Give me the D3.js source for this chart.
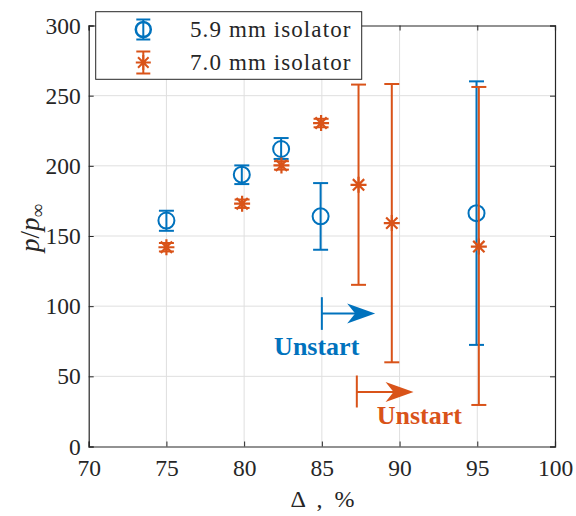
<!DOCTYPE html>
<html>
<head>
<meta charset="utf-8">
<script src="https://cdn.jsdelivr.net/npm/d3@7"></script>
<style>
  html, body { margin: 0; padding: 0; background: #fff; }
  svg { display: block; }
  text { font-family: "Liberation Serif", "DejaVu Serif", serif; fill: #262626; }
</style>
</head>
<body>
<svg id="chart" width="576" height="516"></svg>
<script>
// ---- data ----
const seriesNames = ["5.9 mm isolator", "7.0 mm isolator"];
const seriesColors = ["#0072BD", "#D95319"];

const blueX  = [75, 79.85, 82.38, 84.92, 94.95];
const blueY  = [161, 193.7, 212, 164, 166.3];
const blueLo = [153.7, 187, 204.9, 140.2, 72.4];
const blueHi = [168, 200.3, 219.8, 187.7, 260.2];

const orangeX  = [75, 79.87, 82.4, 84.95, 87.36, 89.5, 95.1];
const orangeY  = [142, 173, 200.3, 230.5, 186.5, 159.2, 142.5];
const orangeLo = [139, 170, 197.3, 227.5, 115.2, 60, 29.6];
const orangeHi = [145, 176, 203.3, 233.5, 257.9, 258.3, 256.2];

const xTicks = [70, 75, 80, 85, 90, 95, 100];
const yTicks = [0, 50, 100, 150, 200, 250, 300];

// annotations (data units): bar x, bar y range, arrow y, arrow tip x, label x, label y
const unstartLabel = "Unstart";
const arrowBarX   = [85, 87.25];
const arrowBarY0  = [83.1, 27.8];
const arrowBarY1  = [106.4, 50.6];
const arrowY      = [94.7, 38.9];
const arrowTipX   = [88.43, 90.9];
const labelX      = [84.67, 91.27];
const labelY      = [65.3, 15.9];

// ---- layout ----
const FONT = '"Liberation Serif", "DejaVu Serif", serif';
const svg = d3.select("#chart");
const L = 88.7, R = 555, T = 25.5, B = 446.5;
const x = d3.scaleLinear().domain([70, 100]).range([L, R]);
const y = d3.scaleLinear().domain([0, 300]).range([B, T]);
const axisColor = "#262626";

// grid
const grid = svg.append("g");
grid.selectAll(".gx").data(xTicks.slice(1, -1)).join("line")
  .attr("x1", d => x(d)).attr("x2", d => x(d)).attr("y1", T).attr("y2", B)
  .attr("stroke", "#dfdfdf").attr("stroke-width", 1);
grid.selectAll(".gy").data(yTicks.slice(1, -1)).join("line")
  .attr("x1", L).attr("x2", R).attr("y1", d => y(d)).attr("y2", d => y(d))
  .attr("stroke", "#dfdfdf").attr("stroke-width", 1);

// axes (inward ticks)
const tickLen = 5;
const xAxisB = d3.axisBottom(x).tickValues(xTicks).tickSize(-tickLen).tickPadding(13).tickFormat(d3.format("d"));
const xAxisT = d3.axisTop(x).tickValues(xTicks).tickSize(-tickLen).tickFormat("");
const yAxisL = d3.axisLeft(y).tickValues(yTicks).tickSize(-tickLen).tickPadding(8).tickFormat(d3.format("d"));
const yAxisR = d3.axisRight(y).tickValues(yTicks).tickSize(-tickLen).tickFormat("");

function styleAxis(g) {
  g.attr("font-family", FONT);
  g.selectAll("path").attr("stroke", axisColor).attr("stroke-width", 1.2);
  g.selectAll("line").attr("stroke", axisColor).attr("stroke-width", 1);
  g.selectAll("text").style("font-family", FONT).attr("font-size", 23.5).attr("fill", axisColor);
}
svg.append("g").attr("transform", `translate(0,${B})`).call(xAxisB).call(styleAxis);
svg.append("g").attr("transform", `translate(0,${T})`).call(xAxisT).call(styleAxis);
svg.append("g").attr("transform", `translate(${L},0)`).call(yAxisL).call(styleAxis);
svg.append("g").attr("transform", `translate(${R},0)`).call(yAxisR).call(styleAxis);

// ---- series ----
const capHalf = 7.5;
function drawErrorbars(g, xs, ys, lo, hi, color) {
  const data = xs.map((d, i) => ({x: d, y: ys[i], lo: lo[i], hi: hi[i]}));
  g.selectAll(".eb").data(data).join("line")
    .attr("x1", d => x(d.x)).attr("x2", d => x(d.x))
    .attr("y1", d => y(d.lo)).attr("y2", d => y(d.hi))
    .attr("stroke", color).attr("stroke-width", 2);
  g.selectAll(".capl").data(data).join("line")
    .attr("x1", d => x(d.x) - capHalf).attr("x2", d => x(d.x) + capHalf)
    .attr("y1", d => y(d.lo)).attr("y2", d => y(d.lo))
    .attr("stroke", color).attr("stroke-width", 2);
  g.selectAll(".caph").data(data).join("line")
    .attr("x1", d => x(d.x) - capHalf).attr("x2", d => x(d.x) + capHalf)
    .attr("y1", d => y(d.hi)).attr("y2", d => y(d.hi))
    .attr("stroke", color).attr("stroke-width", 2);
  return data;
}
function starPath(cx, cy, r) {
  const k = r * Math.SQRT1_2;
  return `M${cx - r},${cy}H${cx + r}M${cx},${cy - r}V${cy + r}` +
         `M${cx - k},${cy - k}L${cx + k},${cy + k}M${cx - k},${cy + k}L${cx + k},${cy - k}`;
}

const gBlue = svg.append("g");
const bData = drawErrorbars(gBlue, blueX, blueY, blueLo, blueHi, seriesColors[0]);
gBlue.selectAll("circle").data(bData).join("circle")
  .attr("cx", d => x(d.x)).attr("cy", d => y(d.y)).attr("r", 8)
  .attr("fill", "none").attr("stroke", seriesColors[0]).attr("stroke-width", 2);

const gOr = svg.append("g");
const oData = drawErrorbars(gOr, orangeX, orangeY, orangeLo, orangeHi, seriesColors[1]);
gOr.selectAll(".star").data(oData).join("path")
  .attr("d", d => starPath(x(d.x), y(d.y), 8))
  .attr("fill", "none").attr("stroke", seriesColors[1]).attr("stroke-width", 2.2);

// ---- annotations ----
const ann = svg.append("g");
arrowBarX.forEach((bx, i) => {
  const c = seriesColors[i];
  ann.append("line").attr("x1", x(bx)).attr("x2", x(bx))
    .attr("y1", y(arrowBarY0[i])).attr("y2", y(arrowBarY1[i]))
    .attr("stroke", c).attr("stroke-width", 2);
  const tx = x(arrowTipX[i]), ty = y(arrowY[i]);
  ann.append("line").attr("x1", x(bx)).attr("x2", tx - 15)
    .attr("y1", ty).attr("y2", ty).attr("stroke", c).attr("stroke-width", 2);
  ann.append("path")
    .attr("d", `M${tx},${ty}L${tx - 28},${ty - 10}L${tx - 20},${ty}L${tx - 28},${ty + 10}Z`)
    .attr("fill", c);
  ann.append("text").attr("x", x(labelX[i])).attr("y", y(labelY[i]))
    .attr("text-anchor", "middle").attr("font-weight", "bold").attr("font-size", 26)
    .style("font-family", FONT).style("fill", c).text(unstartLabel);
});

// ---- axis labels ----
svg.append("text").attr("x", 322.5).attr("y", 507).attr("text-anchor", "middle")
  .style("font-family", FONT).style("white-space", "pre").attr("font-size", 24)
  .text("Δ  ,  %");

const yl = svg.append("text").attr("transform", "translate(39,228) rotate(-90)")
  .style("font-family", FONT).attr("text-anchor", "middle").attr("font-size", 27);
yl.append("tspan").attr("font-style", "italic").text("p");
yl.append("tspan").text("/");
yl.append("tspan").attr("font-style", "italic").text("p");
yl.append("tspan").attr("font-size", 19).attr("dy", 5).text("∞");

// ---- legend ----
const lg = svg.append("g");
lg.append("rect").attr("x", 95.7).attr("y", 11.7).attr("width", 266).attr("height", 67.6)
  .attr("fill", "#fff").attr("stroke", axisColor).attr("stroke-width", 1);
const legY = [29.5, 62.5];
const iconX = 143.3;
seriesNames.forEach((name, i) => {
  const c = seriesColors[i];
  const cy = legY[i];
  const h = i === 0 ? 10 : 11;
  lg.append("line").attr("x1", iconX).attr("x2", iconX).attr("y1", cy - h).attr("y2", cy + h)
    .attr("stroke", c).attr("stroke-width", 2);
  [cy - h, cy + h].forEach(yy => lg.append("line")
    .attr("x1", iconX - 7).attr("x2", iconX + 7).attr("y1", yy).attr("y2", yy)
    .attr("stroke", c).attr("stroke-width", 2));
  if (i === 0) {
    lg.append("circle").attr("cx", iconX).attr("cy", cy).attr("r", 7.5)
      .attr("fill", "none").attr("stroke", c).attr("stroke-width", 2.5);
  } else {
    lg.append("path").attr("d", starPath(iconX, cy, 7.5))
      .attr("fill", "none").attr("stroke", c).attr("stroke-width", 2);
  }
  lg.append("text").attr("x", 190).attr("y", cy + 7.5).attr("font-size", 23)
    .style("font-family", FONT).attr("letter-spacing", 1.1).text(name);
});
</script>
</body>
</html>
